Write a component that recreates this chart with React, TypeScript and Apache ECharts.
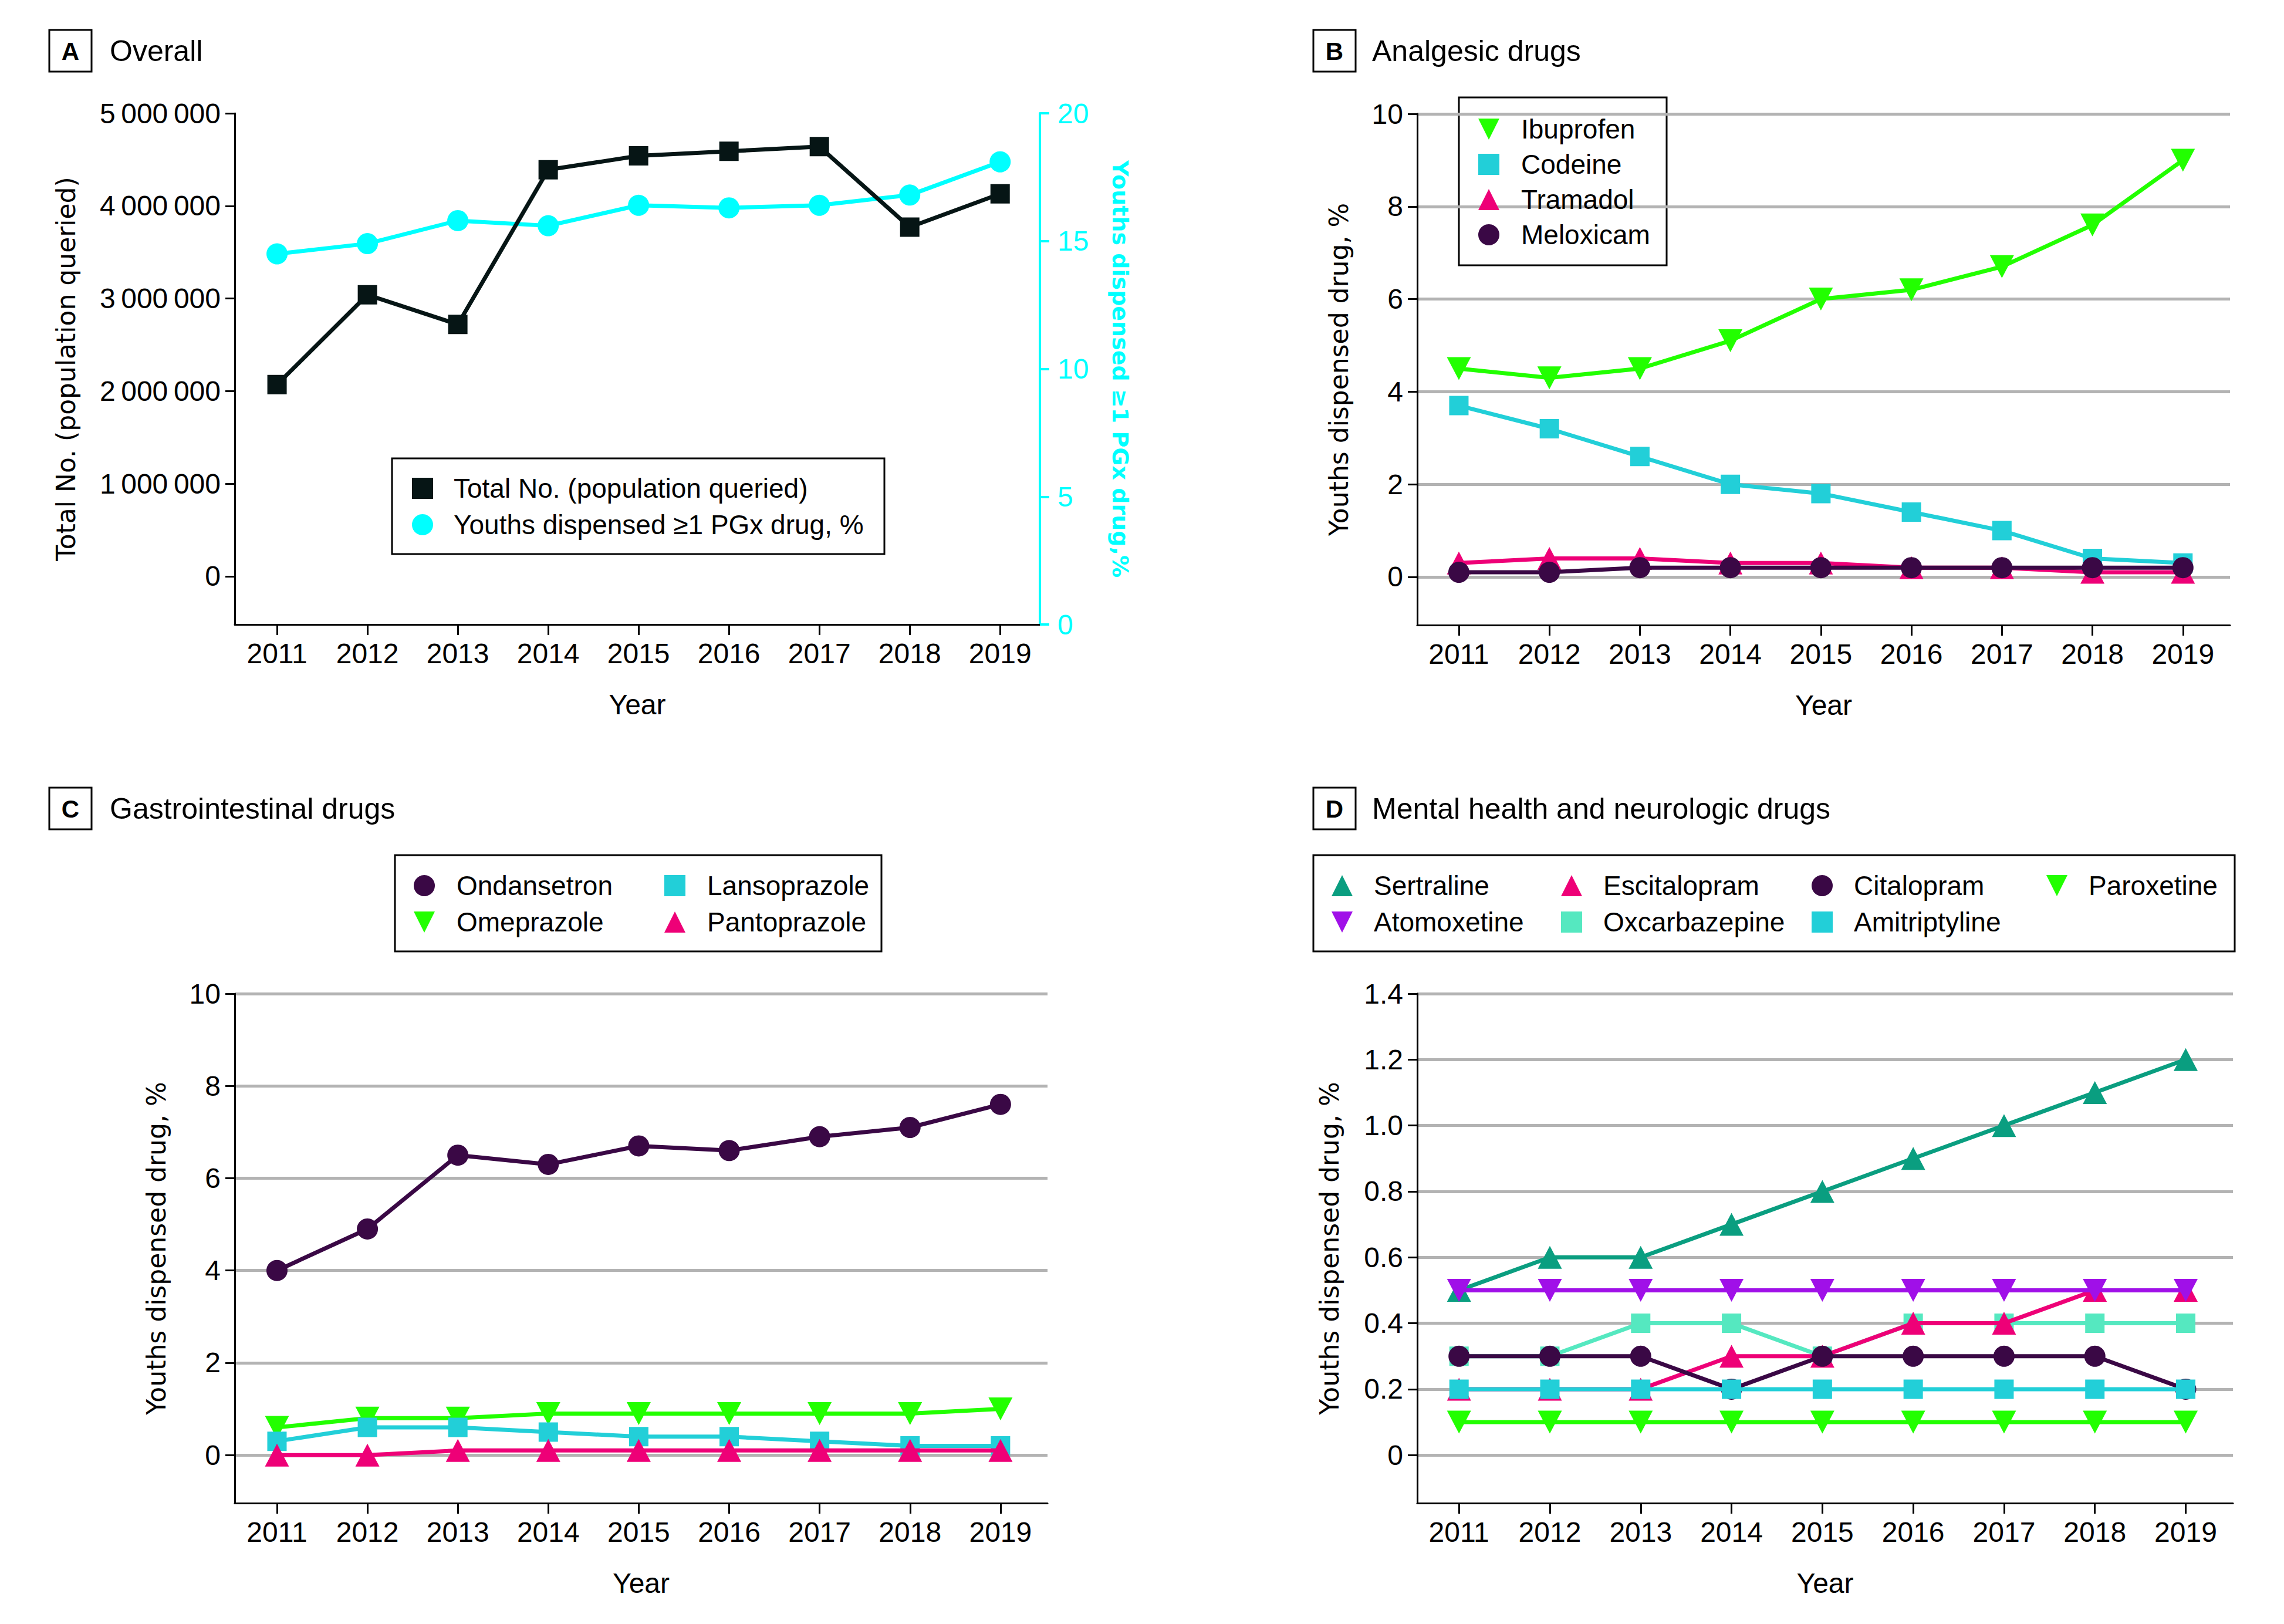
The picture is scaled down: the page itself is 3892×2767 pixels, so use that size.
import React, { useEffect, useRef } from "react";
import * as echarts from "echarts";

// ---------- data ----------
const years = [2011, 2012, 2013, 2014, 2015, 2016, 2017, 2018, 2019];

// Panel A
const totalQueried = [2070000, 3040000, 2720000, 4390000, 4540000, 4590000, 4640000, 3770000, 4130000];
const youthsPgxPct = [14.5, 14.9, 15.8, 15.6, 16.4, 16.3, 16.4, 16.8, 18.1];

// Panel B
const ibuprofen = [4.5, 4.3, 4.5, 5.1, 6.0, 6.2, 6.7, 7.6, 9.0];
const codeine = [3.7, 3.2, 2.6, 2.0, 1.8, 1.4, 1.0, 0.4, 0.3];
const tramadol = [0.3, 0.4, 0.4, 0.3, 0.3, 0.2, 0.2, 0.1, 0.1];
const meloxicam = [0.1, 0.1, 0.2, 0.2, 0.2, 0.2, 0.2, 0.2, 0.2];

// Panel C
const ondansetron = [4.0, 4.9, 6.5, 6.3, 6.7, 6.6, 6.9, 7.1, 7.6];
const omeprazole = [0.6, 0.8, 0.8, 0.9, 0.9, 0.9, 0.9, 0.9, 1.0];
const lansoprazole = [0.3, 0.6, 0.6, 0.5, 0.4, 0.4, 0.3, 0.2, 0.2];
const pantoprazole = [0.0, 0.0, 0.1, 0.1, 0.1, 0.1, 0.1, 0.1, 0.1];

// Panel D
const sertraline = [0.5, 0.6, 0.6, 0.7, 0.8, 0.9, 1.0, 1.1, 1.2];
const atomoxetine = [0.5, 0.5, 0.5, 0.5, 0.5, 0.5, 0.5, 0.5, 0.5];
const escitalopram = [0.2, 0.2, 0.2, 0.3, 0.3, 0.4, 0.4, 0.5, 0.5];
const oxcarbazepine = [0.3, 0.3, 0.4, 0.4, 0.3, 0.4, 0.4, 0.4, 0.4];
const citalopram = [0.3, 0.3, 0.3, 0.2, 0.3, 0.3, 0.3, 0.3, 0.2];
const amitriptyline = [0.2, 0.2, 0.2, 0.2, 0.2, 0.2, 0.2, 0.2, 0.2];
const paroxetine = [0.1, 0.1, 0.1, 0.1, 0.1, 0.1, 0.1, 0.1, 0.1];

// tick labels
const yTicksTotal = [0, 1000000, 2000000, 3000000, 4000000, 5000000];
const yTicksPgx = [0, 5, 10, 15, 20];
const yTicksPct = [0, 2, 4, 6, 8, 10];
const yTicksMental = [0, 0.2, 0.4, 0.6, 0.8, 1.0, 1.2, 1.4];

// ---------- style ----------
const FONT = "'Liberation Sans', Arial, sans-serif";
const NAME_FONT = "'DejaVu Sans', Verdana, sans-serif";
const TICK_SIZE = 48;
const LEGEND_SIZE = 46;
const LINE_W = 7;
const BLACK = "#000000";
const C_DARK = "#061515";
const C_CYAN = "#00FFFF";
const C_GREEN = "#22FF00";
const C_TEAL = "#22CFD8";
const C_PINK = "#EE0077";
const C_PURPLE_DARK = "#3A0845";
const C_SEA = "#0A9E80";
const C_VIOLET = "#A010E8";
const C_MINT = "#55E8C0";
const GRID_GRAY = "#B3B3B3";

const DOWN_TRI = "path://M0,0L10,0L5,10Z";

const toPairs = (vals: number[]) => years.map((y, i) => [y, vals[i]]);

function groupThousands(v: number): string {
  const s = String(Math.round(v));
  return s.replace(/\B(?=(\d{3})+(?!\d))/g, "\u2009");
}

type Mk = "square" | "circle" | "up" | "down";
function markerProps(m: Mk) {
  if (m === "square") return { symbol: "rect", symbolSize: 33, symbolRotate: 0 };
  if (m === "circle") return { symbol: "circle", symbolSize: 36, symbolRotate: 0 };
  if (m === "up") return { symbol: "triangle", symbolSize: [41, 39], symbolRotate: 0 };
  return { symbol: "triangle", symbolSize: [41, 39], symbolRotate: 180 };
}
function legendIcon(m: Mk) {
  if (m === "square") return "rect";
  if (m === "circle") return "circle";
  if (m === "up") return "triangle";
  return DOWN_TRI;
}

function lineSeries(name: string, vals: number[], color: string, m: Mk, grid: number, yIdx: number, z: number) {
  return {
    name,
    type: "line",
    xAxisIndex: grid,
    yAxisIndex: yIdx,
    data: toPairs(vals),
    ...markerProps(m),
    showSymbol: true,
    z,
    lineStyle: { color, width: LINE_W },
    itemStyle: { color, opacity: 1 },
    emphasis: { disabled: true },
  };
}

function xAxis(grid: number, min: number, max: number, nameGap: number) {
  return {
    type: "value",
    gridIndex: grid,
    min,
    max,
    name: "Year",
    nameLocation: "middle",
    nameGap,
    nameTextStyle: { fontFamily: FONT, fontSize: TICK_SIZE, color: BLACK },
    axisLine: { show: true, onZero: false, lineStyle: { color: BLACK, width: 3 } },
    axisTick: { show: true, customValues: years, length: 18, inside: false, lineStyle: { color: BLACK, width: 3 } },
    axisLabel: {
      show: true,
      customValues: years,
      margin: 25,
      fontFamily: FONT,
      fontSize: TICK_SIZE,
      color: BLACK,
      formatter: (v: number) => String(Math.round(v)),
    },
    splitLine: { show: false },
  };
}

function pctYAxis(grid: number, min: number, max: number, ticks: number[], nameGap: number, decimals: boolean) {
  return {
    type: "value",
    gridIndex: grid,
    position: "left",
    min,
    max,
    name: "Youths dispensed drug, %",
    nameLocation: "middle",
    nameGap,
    nameRotate: 90,
    nameTextStyle: { fontFamily: NAME_FONT, fontSize: 44, color: BLACK },
    axisLine: { show: true, lineStyle: { color: BLACK, width: 3 } },
    axisTick: { show: true, customValues: ticks, length: 16, lineStyle: { color: BLACK, width: 3 } },
    axisLabel: {
      show: true,
      customValues: ticks,
      margin: 24,
      fontFamily: FONT,
      fontSize: TICK_SIZE,
      color: BLACK,
      formatter: (v: number) => (decimals ? (Math.abs(v) < 1e-9 ? "0" : v.toFixed(1)) : String(Math.round(v))),
    },
    splitLine: { show: true, lineStyle: { color: GRID_GRAY, width: 5 } },
  };
}

function legendCol(left: number, top: number, items: { name: string; m: Mk }[], gap: number, pad: number) {
  return {
    orient: "vertical",
    left,
    top,
    padding: 0,
    itemWidth: 36,
    itemHeight: 36,
    itemGap: gap,
    selectedMode: false,
    textStyle: { fontFamily: FONT, fontSize: LEGEND_SIZE, color: BLACK, lineHeight: 50, padding: [0, 0, 0, pad] },
    data: items.map((it) => ({ name: it.name, icon: legendIcon(it.m) })),
  };
}

function panelLabel(letter: string, title: string, boxX: number, boxY: number, titleX: number) {
  return [
    {
      type: "rect",
      shape: { x: boxX, y: boxY, width: 72, height: 71 },
      style: { fill: "none", stroke: BLACK, lineWidth: 3 },
    },
    {
      type: "text",
      x: boxX + 36,
      y: boxY + 36,
      style: {
        text: letter,
        fontFamily: FONT,
        fontWeight: "bold",
        fontSize: 42,
        fill: BLACK,
        align: "center",
        verticalAlign: "middle",
      },
    },
    {
      type: "text",
      x: titleX,
      y: boxY + 36,
      style: {
        text: title,
        fontFamily: FONT,
        fontSize: 50,
        fill: BLACK,
        align: "left",
        verticalAlign: "middle",
      },
    },
  ];
}

function legendBox(x: number, y: number, w: number, h: number) {
  return {
    type: "rect",
    shape: { x, y, width: w, height: h },
    style: { fill: "none", stroke: BLACK, lineWidth: 3 },
    z: 0,
  };
}

export default function App() {
  const ref = useRef<HTMLDivElement>(null);

  useEffect(() => {
    if (!ref.current) return;
    const chart = echarts.init(ref.current, undefined, { renderer: "svg" });

    const option: any = {
      animation: false,
      backgroundColor: "#ffffff",
      grid: [
        { left: 400, top: 193, width: 1372, height: 871 },
        { left: 2415, top: 194, width: 1385, height: 871 },
        { left: 400, top: 1693, width: 1385, height: 868 },
        { left: 2415, top: 1693, width: 1390, height: 868 },
      ],
      xAxis: [
        xAxis(0, 2010.532, 2019.44, 112),
        xAxis(1, 2010.54, 2019.52, 112),
        xAxis(2, 2010.533, 2019.52, 112),
        xAxis(3, 2010.54, 2019.52, 112),
      ],
      yAxis: [
        {
          type: "value",
          gridIndex: 0,
          position: "left",
          min: -520000,
          max: 5000000,
          name: "Total No. (population queried)",
          nameLocation: "middle",
          nameGap: 266,
          nameRotate: 90,
          nameTextStyle: { fontFamily: NAME_FONT, fontSize: 44, color: BLACK },
          axisLine: { show: true, lineStyle: { color: BLACK, width: 3 } },
          axisTick: { show: true, customValues: yTicksTotal, length: 16, lineStyle: { color: BLACK, width: 3 } },
          axisLabel: {
            show: true,
            customValues: yTicksTotal,
            margin: 24,
            fontFamily: FONT,
            fontSize: TICK_SIZE,
            color: BLACK,
            formatter: (v: number) => groupThousands(v),
          },
          splitLine: { show: false },
        },
        {
          type: "value",
          gridIndex: 0,
          position: "right",
          min: 0,
          max: 20,
          name: "Youths dispensed \u22651 PGx drug,%",
          nameLocation: "middle",
          nameGap: 118,
          nameRotate: -90,
          nameTextStyle: { fontFamily: NAME_FONT, fontSize: 38, fontWeight: "bold", color: C_CYAN },
          axisLine: { show: true, lineStyle: { color: C_CYAN, width: 4 } },
          axisTick: { show: true, customValues: yTicksPgx, length: 16, lineStyle: { color: C_CYAN, width: 4 } },
          axisLabel: {
            show: true,
            customValues: yTicksPgx,
            margin: 30,
            fontFamily: FONT,
            fontSize: TICK_SIZE,
            color: C_CYAN,
            formatter: (v: number) => String(Math.round(v)),
          },
          splitLine: { show: false },
        },
        pctYAxis(1, -1.04, 10, yTicksPct, 112, false),
        pctYAxis(2, -1.04, 10, yTicksPct, 112, false),
        pctYAxis(3, -0.1456, 1.4, yTicksMental, 128, true),
      ],
      legend: [
        legendCol(702, 807, [
          { name: "Total No. (population queried)", m: "square" },
          { name: "Youths dispensed \u22651 PGx drug, %", m: "circle" },
        ], 12, 30),
        legendCol(2519, 195, [
          { name: "Ibuprofen", m: "down" },
          { name: "Codeine", m: "square" },
          { name: "Tramadol", m: "up" },
          { name: "Meloxicam", m: "circle" },
        ], 10, 32),
        legendCol(705, 1484, [
          { name: "Ondansetron", m: "circle" },
          { name: "Omeprazole", m: "down" },
        ], 12, 32),
        legendCol(1132, 1484, [
          { name: "Lansoprazole", m: "square" },
          { name: "Pantoprazole", m: "up" },
        ], 12, 32),
        legendCol(2269, 1484, [
          { name: "Sertraline", m: "up" },
          { name: "Atomoxetine", m: "down" },
        ], 12, 31),
        legendCol(2660, 1484, [
          { name: "Escitalopram", m: "up" },
          { name: "Oxcarbazepine", m: "square" },
        ], 12, 31),
        legendCol(3087, 1484, [
          { name: "Citalopram", m: "circle" },
          { name: "Amitriptyline", m: "square" },
        ], 12, 31),
        legendCol(3487, 1484, [{ name: "Paroxetine", m: "down" }], 12, 31),
      ],
      graphic: [
        ...panelLabel("A", "Overall", 84, 51, 187),
        ...panelLabel("B", "Analgesic drugs", 2238, 51, 2338),
        ...panelLabel("C", "Gastrointestinal drugs", 84, 1342, 187),
        ...panelLabel("D", "Mental health and neurologic drugs", 2238, 1342, 2338),
        legendBox(668, 781, 839, 163),
        legendBox(2486, 166, 354, 286),
        legendBox(673, 1457, 829, 164),
        legendBox(2238, 1457, 1570, 164),
      ],
      series: [
        // A
        lineSeries("Youths dispensed \u22651 PGx drug, %", youthsPgxPct, C_CYAN, "circle", 0, 1, 2),
        lineSeries("Total No. (population queried)", totalQueried, C_DARK, "square", 0, 0, 3),
        // B
        lineSeries("Ibuprofen", ibuprofen, C_GREEN, "down", 1, 2, 2),
        lineSeries("Codeine", codeine, C_TEAL, "square", 1, 2, 3),
        lineSeries("Tramadol", tramadol, C_PINK, "up", 1, 2, 4),
        lineSeries("Meloxicam", meloxicam, C_PURPLE_DARK, "circle", 1, 2, 5),
        // C
        lineSeries("Ondansetron", ondansetron, C_PURPLE_DARK, "circle", 2, 3, 2),
        lineSeries("Omeprazole", omeprazole, C_GREEN, "down", 2, 3, 3),
        lineSeries("Lansoprazole", lansoprazole, C_TEAL, "square", 2, 3, 4),
        lineSeries("Pantoprazole", pantoprazole, C_PINK, "up", 2, 3, 5),
        // D
        lineSeries("Sertraline", sertraline, C_SEA, "up", 3, 4, 2),
        lineSeries("Oxcarbazepine", oxcarbazepine, C_MINT, "square", 3, 4, 3),
        lineSeries("Escitalopram", escitalopram, C_PINK, "up", 3, 4, 4),
        lineSeries("Atomoxetine", atomoxetine, C_VIOLET, "down", 3, 4, 5),
        lineSeries("Citalopram", citalopram, C_PURPLE_DARK, "circle", 3, 4, 6),
        lineSeries("Amitriptyline", amitriptyline, C_TEAL, "square", 3, 4, 7),
        lineSeries("Paroxetine", paroxetine, C_GREEN, "down", 3, 4, 8),
      ],
    };

    chart.setOption(option);
    return () => chart.dispose();
  }, []);

  return (
    <div
      ref={ref}
      style={{ position: "absolute", left: 0, top: 0, width: 3892, height: 2767, background: "#fff" }}
    />
  );
}
